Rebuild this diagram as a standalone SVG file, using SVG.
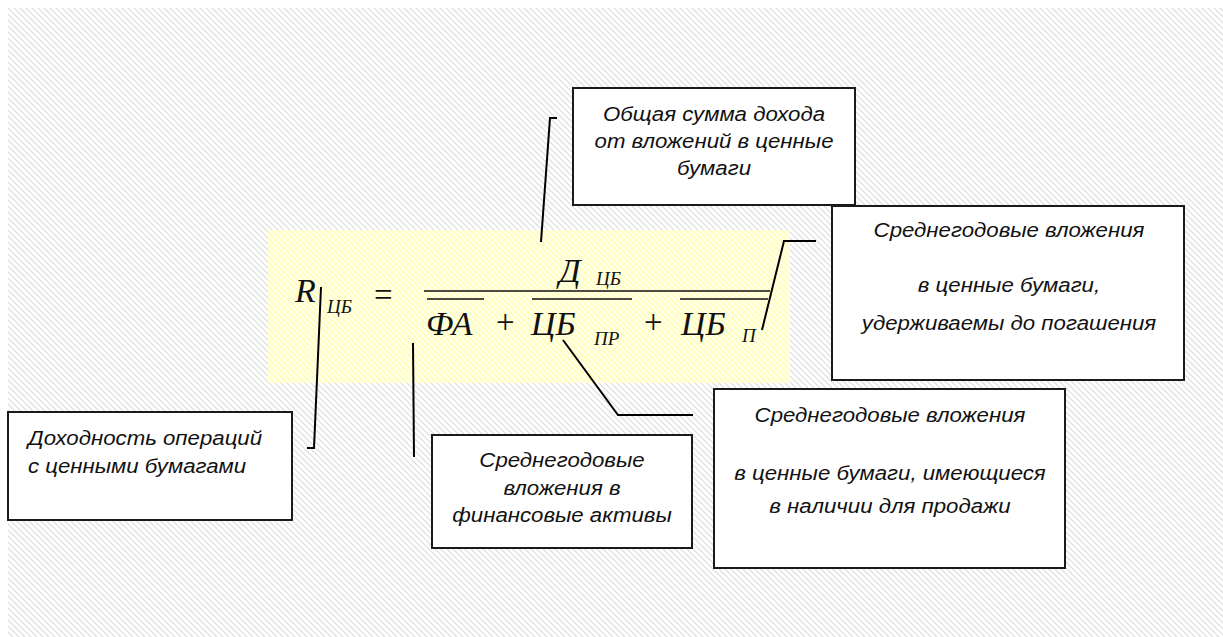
<svg xmlns="http://www.w3.org/2000/svg" width="1223" height="637" viewBox="0 0 1223 637">
<defs>
<pattern id="hatch" width="6" height="6" patternUnits="userSpaceOnUse">
<path d="M-1,-1 L7,7 M-1,5 L1,7 M5,-1 L7,1" stroke="#e2e2e2" stroke-width="1.4"/>
</pattern>
<pattern id="yhatch" width="6" height="6" patternUnits="userSpaceOnUse">
<rect width="6" height="6" fill="#ffffec"/>
<path d="M-1,-1 L7,7 M-1,5 L1,7 M5,-1 L7,1" stroke="#ffffb8" stroke-width="1.8"/>
</pattern>
<style>
.box{fill:#ffffff;stroke:#1a1a1a;stroke-width:2}
.lbl{font-family:"Liberation Sans",Arial,sans-serif;font-style:italic;font-size:19.5px;fill:#111}
.c{text-anchor:middle}
.f{font-family:"Liberation Serif","Times New Roman",serif;font-style:italic;font-size:34px;fill:#111}
.fs{font-family:"Liberation Serif","Times New Roman",serif;font-style:italic;font-size:19px;fill:#111}
.op{font-family:"Liberation Serif","Times New Roman",serif;font-size:33px;fill:#111}
.bar{stroke:#111;stroke-width:1.6;fill:none}
.con{stroke:#000;stroke-width:2;fill:none}
</style>
</defs>
<rect x="0" y="0" width="1223" height="637" fill="#ffffff"/>
<rect x="8" y="8" width="1215" height="629" fill="url(#hatch)"/>
<rect x="268" y="230" width="522" height="153" fill="url(#yhatch)"/>

<g id="formula">
<text class="f" x="295" y="302">R</text>
<text class="fs" x="327" y="313">ЦБ</text>
<text class="op" x="374" y="306">=</text>
<text class="f" x="559" y="282">Д</text>
<text class="fs" x="596" y="285">ЦБ</text>
<line class="bar" x1="424" y1="291" x2="770" y2="291"/>
<line class="bar" x1="427" y1="299" x2="484" y2="299"/>
<line class="bar" x1="532" y1="299" x2="632" y2="299"/>
<line class="bar" x1="680" y1="299" x2="768" y2="299"/>
<text class="f" x="426" y="335">ФА</text>
<text class="op" x="496" y="333">+</text>
<text class="f" x="531" y="335">ЦБ</text>
<text class="fs" x="594" y="345">ПР</text>
<text class="op" x="644" y="333">+</text>
<text class="f" x="681" y="335">ЦБ</text>
<text class="fs" x="742" y="342">П</text>
</g>

<g id="connectors">
<polyline class="con" points="321,287 314,448 307,448"/>
<polyline class="con" points="541,242 550,118 557,118"/>
<line class="con" x1="413" y1="343" x2="414" y2="457"/>
<polyline class="con" points="563,340 618,415 693,415"/>
<polyline class="con" points="762,330 784,241 816,241"/>
</g>

<g id="node-income">
<rect class="box" x="573" y="88" width="282" height="117"/>
<text class="lbl c" transform="translate(714,121) scale(1.14,1)">Общая сумма дохода</text>
<text class="lbl c" transform="translate(714,148) scale(1.14,1)">от вложений в ценные</text>
<text class="lbl c" transform="translate(714,175) scale(1.14,1)">бумаги</text>
</g>

<g id="node-held">
<rect class="box" x="832" y="206" width="352" height="174"/>
<text class="lbl c" transform="translate(1009,237) scale(1.14,1)">Среднегодовые вложения</text>
<text class="lbl c" transform="translate(1009,292) scale(1.14,1)">в ценные бумаги,</text>
<text class="lbl c" transform="translate(1009,330) scale(1.14,1)">удерживаемы до погашения</text>
</g>

<g id="node-sale">
<rect class="box" x="714" y="389" width="351" height="179"/>
<text class="lbl c" transform="translate(890,422) scale(1.14,1)">Среднегодовые вложения</text>
<text class="lbl c" transform="translate(890,480) scale(1.14,1)">в ценные бумаги, имеющиеся</text>
<text class="lbl c" transform="translate(890,513) scale(1.14,1)">в наличии для продажи</text>
</g>

<g id="node-fa">
<rect class="box" x="432" y="435" width="260" height="113"/>
<text class="lbl c" transform="translate(562,467) scale(1.14,1)">Среднегодовые</text>
<text class="lbl c" transform="translate(562,495) scale(1.14,1)">вложения в</text>
<text class="lbl c" transform="translate(562,522) scale(1.14,1)">финансовые активы</text>
</g>

<g id="node-yield">
<rect class="box" x="8" y="412" width="284" height="108"/>
<text class="lbl" transform="translate(28,445) scale(1.14,1)">Доходность операций</text>
<text class="lbl" transform="translate(28,473) scale(1.14,1)">с ценными бумагами</text>
</g>
</svg>
